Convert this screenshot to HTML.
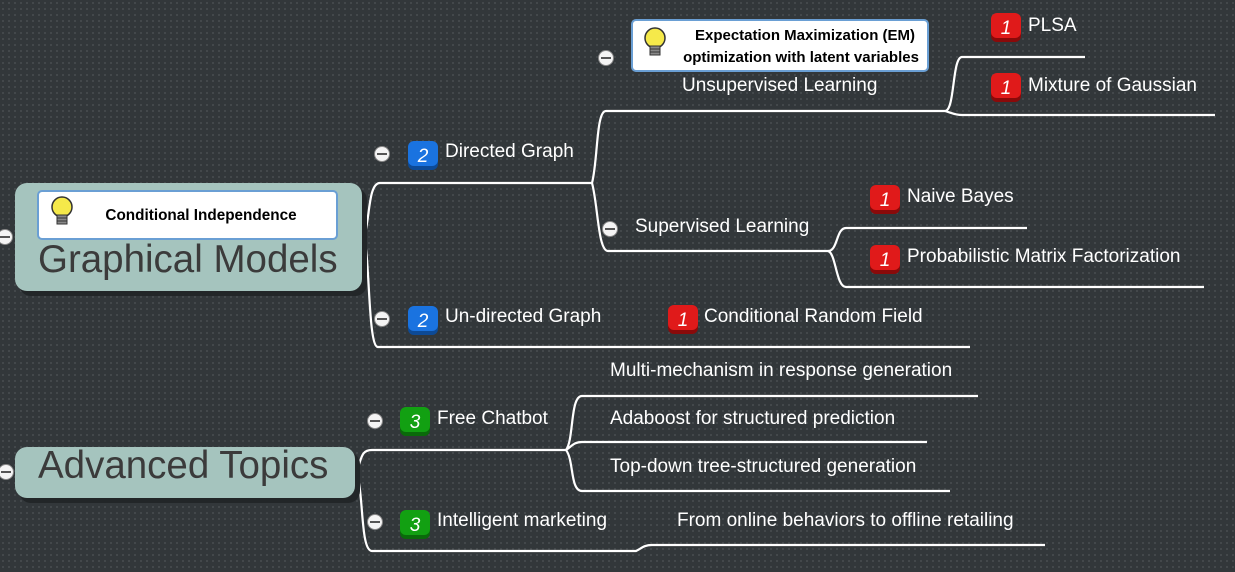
<!DOCTYPE html>
<html><head><meta charset="utf-8"><style>
html,body{margin:0;padding:0}
body{width:1235px;height:572px;overflow:hidden;background-color:#32373a;background-image:radial-gradient(circle,#464b4e 0.8px,transparent 1.2px);background-size:6px 6px;font-family:"Liberation Sans",sans-serif}
svg{position:absolute;left:0;top:0}
text{font-family:"Liberation Sans",sans-serif}
</style></head><body>
<svg width="1235" height="572" xmlns="http://www.w3.org/2000/svg">
<defs>
<g id="minus"><circle r="7.5" fill="#f4f4f4" stroke="#888" stroke-width="1"/><rect x="-5" y="-1" width="10" height="2" fill="#555"/></g>
<g id="bulb"><circle cx="0" cy="0" r="10" fill="#f5e94a" stroke="#333" stroke-width="1.5"/><rect x="-5" y="8" width="10" height="9" fill="#888" stroke="#333"/><line x1="-5" y1="11" x2="5" y2="11" stroke="#333"/><line x1="-5" y1="14" x2="5" y2="14" stroke="#333"/></g>
</defs>
<g fill="none" stroke="#fff" stroke-width="2.2">
<path d="M364 237 C370 220 368 183 380 183 L592 183"/>
<path d="M364 237 C370 260 368 347 378 347 L970 347"/>
<path d="M592 183 C598 160 596 111 606 111 L945 111 C955 111 952 57 962 57 L1085 57"/>
<path d="M945 111 C952 113 955 115 962 115 L1215 115"/>
<path d="M592 183 C598 205 598 251 608 251 L828 251 C838 251 836 228 846 228 L1027 228"/>
<path d="M828 251 C836 253 836 287 846 287 L1204 287"/>
<path d="M356 472 C362 460 360 450 372 450 L566 450"/>
<path d="M356 472 C364 490 360 551 372 551 L636 551 C642 548 644 545 652 545 L1045 545"/>
<path d="M566 450 C574 440 570 396 582 396 L978 396"/>
<path d="M566 450 C572 446 574 442 582 442 L927 442"/>
<path d="M566 450 C574 460 570 491 582 491 L950 491"/>
</g>
<rect x="19" y="188" width="348" height="108" rx="12" fill="#222628"/>
<rect x="15" y="183" width="347" height="108" rx="12" fill="#a5c4be"/>
<rect x="38" y="191" width="299" height="48" fill="#fff" stroke="#6a9fd4" stroke-width="2" rx="4"/>
<use href="#bulb" x="62" y="207"/>
<text x="201" y="220" font-size="15.3" font-weight="bold" text-anchor="middle" fill="#000">Conditional Independence</text>
<text x="38" y="272" font-size="38.5" fill="#3b3b3b">Graphical Models</text>
<use href="#minus" x="5" y="237"/>
<rect x="19" y="452" width="341" height="51" rx="12" fill="#222628"/>
<rect x="15" y="447" width="340" height="51" rx="12" fill="#a5c4be"/>
<text x="38" y="478" font-size="38.5" fill="#3b3b3b">Advanced Topics</text>
<use href="#minus" x="6" y="472"/>
<rect x="632" y="20" width="296" height="51" fill="#fff" stroke="#6a9fd4" stroke-width="2" rx="4"/>
<use href="#bulb" x="655" y="38"/>
<text x="805" y="40" font-size="15" font-weight="bold" text-anchor="middle" fill="#000">Expectation Maximization (EM)</text>
<text x="801" y="62" font-size="15" font-weight="bold" text-anchor="middle" fill="#000">optimization with latent variables</text>
<use href="#minus" x="606" y="58"/>
<use href="#minus" x="382" y="154"/>
<use href="#minus" x="610" y="229"/>
<use href="#minus" x="382" y="319"/>
<use href="#minus" x="375" y="421"/>
<use href="#minus" x="375" y="522"/>
<g font-size="19" font-style="italic" fill="#fff" text-anchor="middle">
<rect x="408" y="144" width="30" height="26" rx="6" fill="#0d4a96"/><rect x="408" y="141" width="30" height="25" rx="6" fill="#1a73e0"/><text x="423" y="162">2</text>
<rect x="408" y="309" width="30" height="26" rx="6" fill="#0d4a96"/><rect x="408" y="306" width="30" height="25" rx="6" fill="#1a73e0"/><text x="423" y="327">2</text>
<rect x="991" y="16" width="30" height="26" rx="6" fill="#8a0a0a"/><rect x="991" y="13" width="30" height="25" rx="6" fill="#e01a1a"/><text x="1006" y="34">1</text>
<rect x="991" y="76" width="30" height="26" rx="6" fill="#8a0a0a"/><rect x="991" y="73" width="30" height="25" rx="6" fill="#e01a1a"/><text x="1006" y="94">1</text>
<rect x="870" y="188" width="30" height="26" rx="6" fill="#8a0a0a"/><rect x="870" y="185" width="30" height="25" rx="6" fill="#e01a1a"/><text x="885" y="206">1</text>
<rect x="870" y="248" width="30" height="26" rx="6" fill="#8a0a0a"/><rect x="870" y="245" width="30" height="25" rx="6" fill="#e01a1a"/><text x="885" y="266">1</text>
<rect x="668" y="308" width="30" height="26" rx="6" fill="#8a0a0a"/><rect x="668" y="305" width="30" height="25" rx="6" fill="#e01a1a"/><text x="683" y="326">1</text>
<rect x="400" y="410" width="30" height="26" rx="6" fill="#0a6a0a"/><rect x="400" y="407" width="30" height="25" rx="6" fill="#12a012"/><text x="415" y="428">3</text>
<rect x="400" y="513" width="30" height="26" rx="6" fill="#0a6a0a"/><rect x="400" y="510" width="30" height="25" rx="6" fill="#12a012"/><text x="415" y="531">3</text>
</g>
<g font-size="19" fill="#fff">
<text x="445" y="157">Directed Graph</text>
<text x="682" y="91">Unsupervised Learning</text>
<text x="1028" y="31">PLSA</text>
<text x="1028" y="91">Mixture of Gaussian</text>
<text x="635" y="232">Supervised Learning</text>
<text x="907" y="202">Naive Bayes</text>
<text x="907" y="262">Probabilistic Matrix Factorization</text>
<text x="445" y="322">Un-directed Graph</text>
<text x="704" y="322">Conditional Random Field</text>
<text x="437" y="424">Free Chatbot</text>
<text x="610" y="376">Multi-mechanism in response generation</text>
<text x="610" y="424">Adaboost for structured prediction</text>
<text x="610" y="472">Top-down tree-structured generation</text>
<text x="437" y="526">Intelligent marketing</text>
<text x="677" y="526">From online behaviors to offline retailing</text>
</g>
</svg>
</body></html>
